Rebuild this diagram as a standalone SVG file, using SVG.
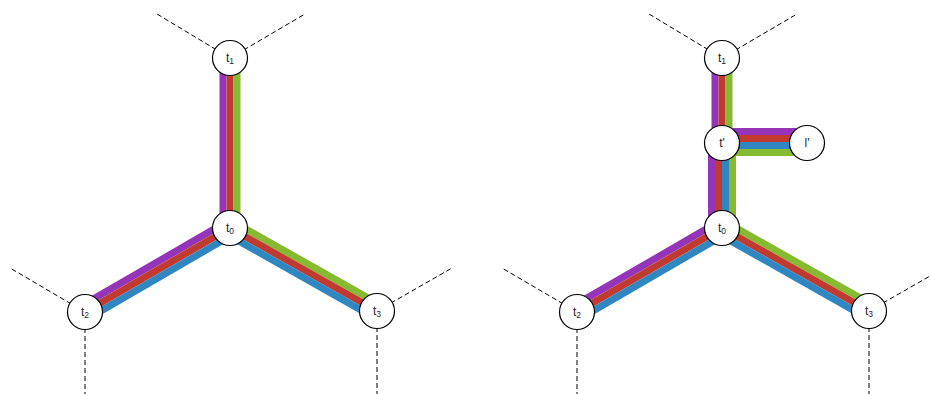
<svg xmlns="http://www.w3.org/2000/svg" width="931" height="394" viewBox="0 0 931 394">
<style>
.dash{stroke:#000;stroke-width:1;stroke-dasharray:5,3;fill:none}
.s{stroke-width:7;fill:none;stroke-linecap:butt}
.p{stroke:#9533b9}
.r{stroke:#c13a2f}
.g{stroke:#86bb31}
.b{stroke:#2f86c0}
.node{fill:#fff;stroke:#000;stroke-width:1.2}
.lbl{font-family:"Liberation Sans",Arial,sans-serif;font-size:12px;fill:#222;text-anchor:middle}
.sub{font-size:8.5px}
</style>
<rect width="931" height="394" fill="#fff"/>
<g id="connectors">
  <line class="dash" x1="230" y1="58" x2="157" y2="14"/>
  <line class="dash" x1="230" y1="58" x2="305" y2="14"/>
  <line class="dash" x1="85" y1="312" x2="10" y2="268"/>
  <line class="dash" x1="85" y1="312" x2="85" y2="394"/>
  <line class="dash" x1="377" y1="311" x2="452" y2="268"/>
  <line class="dash" x1="377" y1="311" x2="377" y2="394"/>
  <line class="dash" x1="722" y1="58" x2="649" y2="14"/>
  <line class="dash" x1="722" y1="58" x2="797" y2="14"/>
  <line class="dash" x1="577" y1="312" x2="502" y2="268"/>
  <line class="dash" x1="577" y1="312" x2="577" y2="394"/>
  <line class="dash" x1="869" y1="311" x2="944" y2="268"/>
  <line class="dash" x1="869" y1="311" x2="869" y2="394"/>
  <line class="s p" x1="223" y1="58" x2="223" y2="228"/>
  <line class="s r" x1="230" y1="58" x2="230" y2="228"/>
  <line class="s g" x1="237" y1="58" x2="237" y2="228"/>
  <line class="s p" x1="226.5" y1="221.9" x2="81.5" y2="305.9"/>
  <line class="s r" x1="230" y1="228" x2="85" y2="312"/>
  <line class="s b" x1="233.5" y1="234.1" x2="88.5" y2="318.1"/>
  <line class="s g" x1="233.4" y1="221.9" x2="380.4" y2="304.9"/>
  <line class="s r" x1="230" y1="228" x2="377" y2="311"/>
  <line class="s b" x1="226.6" y1="234.1" x2="373.6" y2="317.1"/>
  <line class="s p" x1="715" y1="58" x2="715" y2="143"/>
  <line class="s r" x1="722" y1="58" x2="722" y2="143"/>
  <line class="s g" x1="729" y1="58" x2="729" y2="143"/>
  <line class="s p" x1="722" y1="131.5" x2="807" y2="131.5"/>
  <line class="s r" x1="722" y1="138.5" x2="807" y2="138.5"/>
  <line class="s b" x1="722" y1="145.5" x2="807" y2="145.5"/>
  <line class="s p" x1="711.5" y1="143" x2="711.5" y2="228"/>
  <line class="s r" x1="718.5" y1="143" x2="718.5" y2="228"/>
  <line class="s b" x1="725.5" y1="143" x2="725.5" y2="228"/>
  <polyline class="s g" points="807,152.5 732.5,152.5 732.5,228"/>
  <line class="s g" x1="732.5" y1="143" x2="732.5" y2="156"/>
  <line class="s p" x1="718.5" y1="221.9" x2="573.5" y2="305.9"/>
  <line class="s r" x1="722" y1="228" x2="577" y2="312"/>
  <line class="s b" x1="725.5" y1="234.1" x2="580.5" y2="318.1"/>
  <line class="s g" x1="725.4" y1="221.9" x2="872.4" y2="304.9"/>
  <line class="s r" x1="722" y1="228" x2="869" y2="311"/>
  <line class="s b" x1="718.6" y1="234.1" x2="865.6" y2="317.1"/>
</g>
<g id="L_t1"><circle class="node" cx="230" cy="58" r="17.5"/><text class="lbl" x="230" y="62">t<tspan class="sub" dy="2">1</tspan></text></g>
<g id="L_t0"><circle class="node" cx="230" cy="228" r="17.5"/><text class="lbl" x="230" y="232">t<tspan class="sub" dy="2">0</tspan></text></g>
<g id="L_t2"><circle class="node" cx="85" cy="312" r="17.5"/><text class="lbl" x="85" y="316">t<tspan class="sub" dy="2">2</tspan></text></g>
<g id="L_t3"><circle class="node" cx="377" cy="311" r="17.5"/><text class="lbl" x="377" y="315">t<tspan class="sub" dy="2">3</tspan></text></g>
<g id="R_t1"><circle class="node" cx="722" cy="58" r="17.5"/><text class="lbl" x="722" y="62">t<tspan class="sub" dy="2">1</tspan></text></g>
<g id="R_tp"><circle class="node" cx="722" cy="143" r="17.5"/><text class="lbl" x="722" y="147">t'</text></g>
<g id="R_lp"><circle class="node" cx="807" cy="143" r="17.5"/><text class="lbl" x="807" y="147">l'</text></g>
<g id="R_t0"><circle class="node" cx="722" cy="228" r="17.5"/><text class="lbl" x="722" y="232">t<tspan class="sub" dy="2">0</tspan></text></g>
<g id="R_t2"><circle class="node" cx="577" cy="312" r="17.5"/><text class="lbl" x="577" y="316">t<tspan class="sub" dy="2">2</tspan></text></g>
<g id="R_t3"><circle class="node" cx="869" cy="311" r="17.5"/><text class="lbl" x="869" y="315">t<tspan class="sub" dy="2">3</tspan></text></g>
</svg>
